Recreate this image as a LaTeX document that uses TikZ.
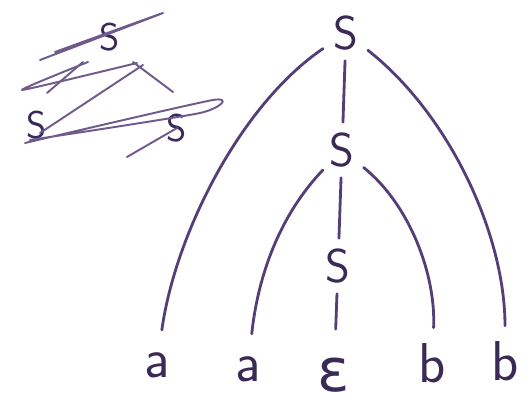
\documentclass[tikz,border=0pt]{standalone}
\usepackage{fontspec}
\newfontfamily\greekfont{DejaVu Sans}
\usepackage{tikz}
\usetikzlibrary{positioning}
\definecolor{ink}{RGB}{84,62,120}
\definecolor{inkdark}{RGB}{58,42,86}
\tikzset{
  sym/.style={circle, minimum size=1.1cm, inner sep=0pt, text=inkdark, font=\sffamily\fontsize{27}{27}\selectfont},
  leaf/.style={circle, minimum size=1.4cm, inner sep=0pt, text=inkdark, font=\sffamily\fontsize{32}{32}\selectfont},
  struck/.style={inner sep=0pt, text=inkdark, font=\sffamily\fontsize{22}{22}\selectfont},
  branch/.style={draw=ink, line width=1.6pt, line cap=round},
  scrib/.style={draw=ink!85, line width=1.1pt, line cap=round, line join=round},
}

\begin{document}
\begin{tikzpicture}[x=0.02cm, y=0.02cm]
  \useasboundingbox (0,0) rectangle (531,405);

  % parse tree
  \node[sym]  (sTop) at (346,372) {S};
  \node[sym]  (sMid) at (342,255) {S};
  \node[sym]  (sLow) at (338,139) {S};
  \node[leaf] (aOne) at (157,40)  {a};
  \node[leaf] (aTwo) at (248,36)  {a};
  \node[leaf, font=\greekfont\fontsize{34}{34}\selectfont] (eps) at (334,30) {ε};
  \node[leaf] (bOne) at (432,42)  {b};
  \node[leaf] (bTwo) at (505,44)  {b};

  \draw[branch] (sTop) -- (sMid);
  \draw[branch] (sMid) -- (sLow);
  \draw[branch, shorten >=6pt] (sLow) -- (eps);
  \draw[branch] (sTop) .. controls (240,300) and (175,170) .. (aOne);
  \draw[branch] (sTop) .. controls (450,290) and (505,170) .. (bTwo);
  \draw[branch] (sMid) .. controls (280,190) and (258,130) .. (aTwo);
  \draw[branch] (sMid) .. controls (410,200) and (436,130) .. (bOne);

  % crossed-out rule, top left
  \node[struck] (xTop)   at (110,368) {S};
  \node[struck] (xLeft)  at (37,280)  {S};
  \node[struck] (xRight) at (177,277) {S};
  \draw[scrib] plot[smooth, tension=0.4] coordinates {(40,345) (163,392) (55,353)};
  \draw[scrib] plot[smooth, tension=0.3] coordinates {(88,343) (22,315) (137,342)};
  \draw[scrib] (83,343) -- (47,312);
  \draw[scrib] (133,343) -- (173,313);
  \draw[scrib] (143,340) -- (40,272);
  \draw[scrib] (xRight.center) -- (127,248);
  \draw[scrib] plot[smooth, tension=0.4] coordinates {(25,262) (213,305) (200,292) (30,265)};
\end{tikzpicture}
\end{document}
